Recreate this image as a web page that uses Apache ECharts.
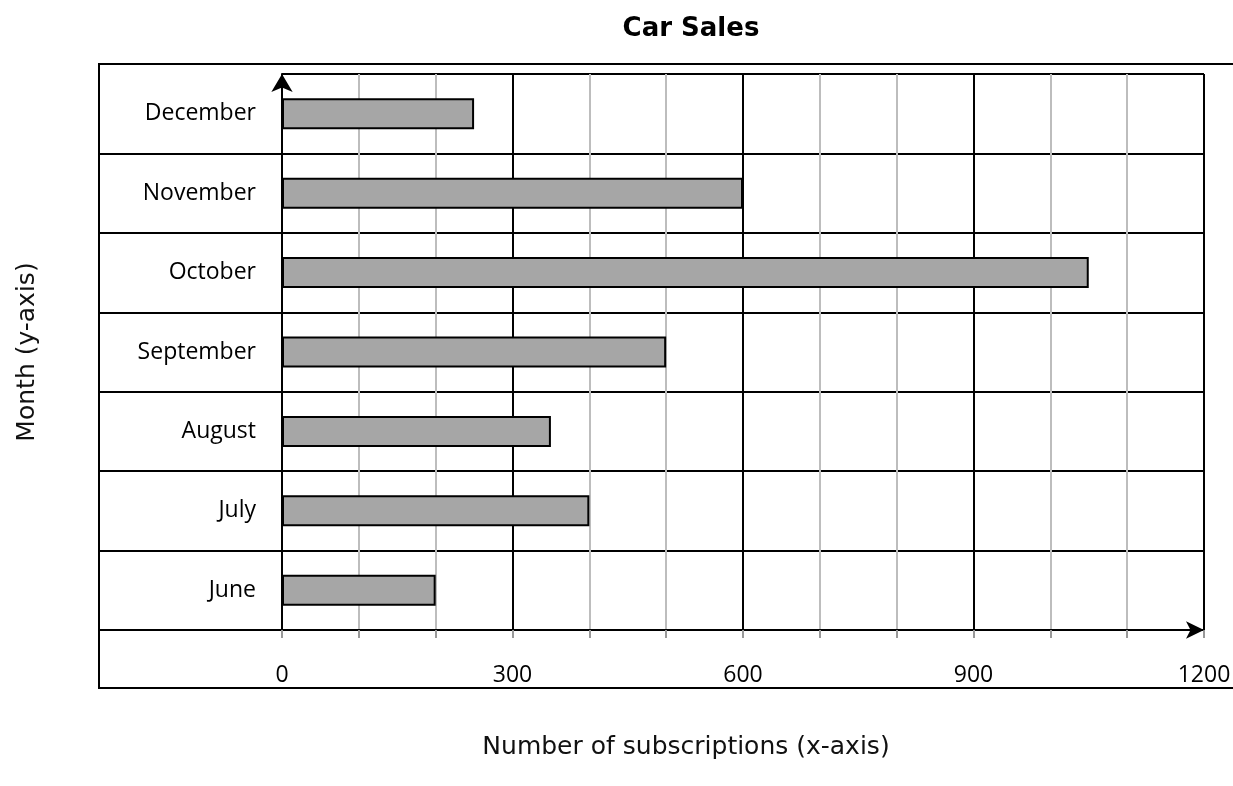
<!DOCTYPE html>
<html>
<head>
<meta charset="utf-8">
<title>Car Sales</title>
<script src="https://cdn.jsdelivr.net/npm/echarts@6/dist/echarts.min.js"></script>
<style>
  html, body { margin: 0; padding: 0; background: #fff; }
  #chart { width: 1233px; height: 786px; }
</style>
</head>
<body>
<div id="chart"></div>
<script>
// 汽车销量 (Car Sales)
var months = ['June', 'July', 'August', 'September', 'October', 'November', 'December'];
var sales = [200, 400, 350, 500, 1050, 600, 250];
var tickLabels = [0, 300, 600, 900, 1200];
var rowEdges = [0, 1, 2, 3, 4, 5, 6];

(function () {
    var myChart = echarts.init(document.getElementById('chart'));
    var labelFont = '"Open Sans", "Noto Sans", sans-serif';
    var nameFont = '"DejaVu Sans", sans-serif';

    var option = {
        backgroundColor: '#fff',
        animation: false,
        title: {
            text: 'Car Sales',
            left: 686,
            top: 11,
            textAlign: 'center',
            textStyle: {
                fontFamily: nameFont,
                fontSize: 26,
                fontWeight: 'bold',
                color: '#000'
            }
        },
        graphic: [{
            type: 'rect',
            z: -10,
            shape: { x: 99, y: 64, width: 1160, height: 624 },
            style: { fill: 'none', stroke: '#000', lineWidth: 2 }
        }],
        grid: {
            left: 282,
            top: 74,
            right: 29,
            bottom: 156,
            containLabel: false,
            outerBoundsMode: 'none'
        },
        xAxis: {
            type: 'value',
            min: 0,
            max: 1200,
            interval: 100,
            name: 'Number of subscriptions (x-axis)',
            nameLocation: 'middle',
            nameGap: 105,
            nameTextStyle: {
                fontFamily: nameFont,
                fontSize: 25,
                color: '#111',
                padding: [0, 114, 0, 0]
            },
            axisLine: {
                show: true,
                symbol: ['none', 'arrow'],
                symbolSize: [13, 18],
                lineStyle: { color: '#000', width: 2 }
            },
            axisTick: {
                show: true,
                length: 8,
                lineStyle: { color: '#999', width: 2 }
            },
            axisLabel: {
                margin: 34,
                fontFamily: labelFont,
                fontSize: 23,
                color: '#000',
                formatter: function (v) {
                    return tickLabels.indexOf(v) >= 0 ? String(v) : '';
                }
            },
            splitLine: {
                show: true,
                lineStyle: { color: ['#000', '#bdbdbd', '#bdbdbd'], width: 2 }
            }
        },
        yAxis: [{
            type: 'category',
            data: months,
            name: 'Month (y-axis)',
            nameLocation: 'middle',
            nameRotate: 90,
            nameGap: 242,
            nameTextStyle: {
                fontFamily: nameFont,
                fontSize: 25,
                color: '#111'
            },
            axisLine: {
                show: true,
                symbol: ['none', 'arrow'],
                symbolSize: [16, 18],
                lineStyle: { color: '#000', width: 2 }
            },
            axisTick: { show: false },
            axisLabel: {
                margin: 26,
                fontFamily: labelFont,
                fontSize: 23,
                color: '#000'
            },
            splitLine: {
                show: true,
                lineStyle: { color: '#000', width: 2 }
            }
        }, {
            // row lines that run out to the left frame
            type: 'value',
            position: 'left',
            min: 0,
            max: 7,
            interval: 1,
            axisLine: { show: false },
            axisLabel: { show: false },
            splitLine: { show: false },
            axisTick: {
                show: true,
                length: 183,
                customValues: rowEdges,
                lineStyle: { color: '#000', width: 2 }
            }
        }],
        series: [{
            name: 'Car Sales',
            type: 'bar',
            yAxisIndex: 0,
            barWidth: 31,
            z: 5,
            itemStyle: {
                color: '#a6a6a6',
                borderColor: '#000',
                borderWidth: 2
            },
            data: sales
        }]
    };
    myChart.setOption(option);
    window.addEventListener('resize', function () {
        myChart.resize();
    });
})();
</script>
</body>
</html>
